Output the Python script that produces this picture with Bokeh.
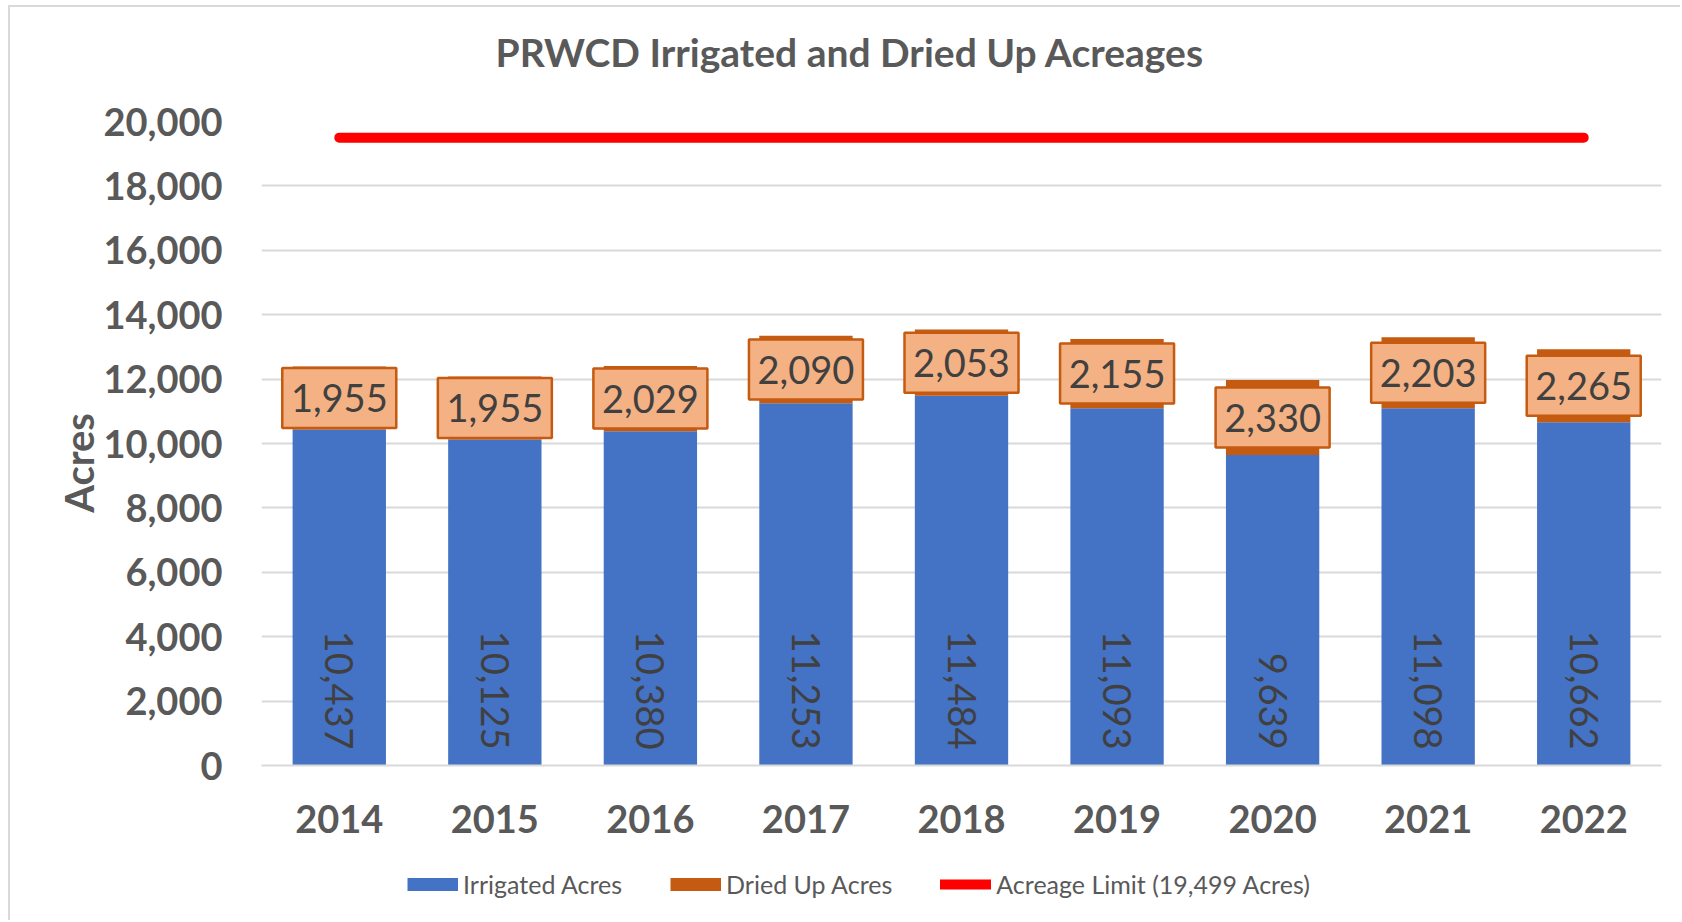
import math
from bokeh.plotting import figure
from bokeh.layouts import column
from bokeh.models import (ColumnDataSource, FixedTicker, NumeralTickFormatter, Legend,
                          LegendItem, Title, Range1d, FactorRange)
from bokeh.core.properties import value
from bokeh.embed import file_html
from bokeh.resources import INLINE

# ---- data ----
years = ["2014", "2015", "2016", "2017", "2018", "2019", "2020", "2021", "2022"]
irrigated = [10437, 10125, 10380, 11253, 11484, 11093, 9639, 11098, 10662]
dried_up = [1955, 1955, 2029, 2090, 2053, 2155, 2330, 2203, 2265]
acreage_limit = 19499
y_ticks = [0, 2000, 4000, 6000, 8000, 10000, 12000, 14000, 16000, 18000, 20000]
title_text = "PRWCD Irrigated and Dried Up Acreages"
legend_labels = ["Irrigated Acres", "Dried Up Acres", "Acreage Limit (19,499 Acres)"]

FONT = "Lato"
GRAY = "#595959"
LABEL_COLOR = "#404040"
BLUE = "#4472C4"
ORANGE = "#C55A11"
LIGHT_ORANGE = "#F4B183"
RED = "#FF0000"
BORDER = "#D9D9D9"

src = ColumnDataSource(dict(
    year=years,
    irr=irrigated,
    dried=dried_up,
    top=[i + d for i, d in zip(irrigated, dried_up)],
    mid=[i + d / 2 for i, d in zip(irrigated, dried_up)],
    zero=[0] * len(years),
    limit=[acreage_limit] * len(years),
    irr_txt=[f"{v:,}" for v in irrigated],
    dried_txt=[f"{v:,}" for v in dried_up],
))

W = 1680
p = figure(x_range=FactorRange(*years), y_range=Range1d(0, 20000),
           width=W, height=852, output_backend="svg", toolbar_location=None,
           min_border_left=261, min_border_right=19, min_border_top=121, min_border_bottom=87)
p.outline_line_color = None
p.background_fill_color = "white"
p.border_fill_color = None

p.vbar(x="year", bottom=0, top="irr", width=0.6, fill_color=BLUE, line_color=None, source=src)
p.vbar(x="year", bottom="irr", top="top", width=0.6, fill_color=ORANGE, line_color=None, source=src)
p.line(x="year", y="limit", line_width=10, line_color=RED, line_cap="round", source=src)

p.rect(x="year", y="mid", width=114, height=60, width_units="screen", height_units="screen",
       fill_color=LIGHT_ORANGE, line_color=ORANGE, line_width=2.5, source=src)
p.text(x="year", y="mid", text="dried_txt", text_align="center", text_baseline="middle",
       text_font=value(FONT), text_font_size="38px", text_color=LABEL_COLOR, source=src)
p.text(x="year", y="zero", text="irr_txt", angle=-math.pi / 2, text_align="right",
       text_baseline="middle", y_offset=-16,
       text_font=value(FONT), text_font_size="38px", text_color=LABEL_COLOR, source=src)

# axes / grid
p.xgrid.grid_line_color = None
p.ygrid.grid_line_color = "#D9D9D9"
p.ygrid.grid_line_width = 2
p.yaxis.ticker = FixedTicker(ticks=y_ticks)
p.yaxis.formatter = NumeralTickFormatter(format="0,0")
for ax in (p.xaxis[0], p.yaxis[0]):
    ax.major_tick_line_color = None
    ax.minor_tick_line_color = None
    ax.major_tick_out = 0
    ax.major_tick_in = 0
    ax.major_label_text_font = FONT
    ax.major_label_text_font_style = "bold"
    ax.major_label_text_font_size = "38px"
    ax.major_label_text_color = GRAY
p.yaxis.axis_line_color = None
p.xaxis.axis_line_color = "#D9D9D9"
p.xaxis.axis_line_width = 2
p.yaxis.major_label_standoff = 39
p.xaxis.major_label_standoff = 39
p.yaxis.axis_label = "Acres\u00a0\u00a0\u00a0\u00a0"
p.yaxis.axis_label_text_font = FONT
p.yaxis.axis_label_text_font_style = "bold"
p.yaxis.axis_label_text_font_size = "40px"
p.yaxis.axis_label_text_color = GRAY
p.yaxis.axis_label_standoff = -3

# title (spacer keeps it up near the top edge)
p.title.text = ""
spacer = Title(text=" ", text_font_size="10px", standoff=34)
p.add_layout(spacer, "above")
title = Title(text=title_text, align="left", offset=234, vertical_align="bottom", standoff=0,
              text_font=FONT, text_font_style="bold", text_font_size="39px", text_color=GRAY)
p.add_layout(title, "above")

# ---- legend strip underneath ----
LH = 68
pl = figure(width=W, height=LH, x_range=Range1d(0, W), y_range=Range1d(0, LH),
            output_backend="svg", toolbar_location=None,
            x_axis_location=None, y_axis_location=None,
            min_border=0, min_border_left=0, min_border_right=0, min_border_top=0, min_border_bottom=0)
pl.outline_line_color = None
pl.background_fill_color = None
pl.border_fill_color = None
pl.xgrid.grid_line_color = None
pl.ygrid.grid_line_color = None
pl.title.text = ""
nan = float("nan")
sw_irr = pl.line(x=[nan], y=[nan], line_width=13, line_color=BLUE, line_cap="butt")
sw_dry = pl.line(x=[nan], y=[nan], line_width=13, line_color=ORANGE, line_cap="butt")
sw_lim = pl.line(x=[nan], y=[nan], line_width=10, line_color=RED, line_cap="round")
legend = Legend(items=[LegendItem(label=legend_labels[0], renderers=[sw_irr]),
                       LegendItem(label=legend_labels[1], renderers=[sw_dry]),
                       LegendItem(label=legend_labels[2], renderers=[sw_lim])],
                location=(146, 21), orientation="horizontal", padding=0, margin=0,
                spacing=48, glyph_width=51, glyph_height=14, label_standoff=5,
                label_text_font=FONT, label_text_font_size="25px", label_text_color=GRAY,
                border_line_color=None, background_fill_alpha=0)
pl.add_layout(legend)

layout = column(p, pl, spacing=0, styles={
    "background-color": "white",
    "background-image": f"linear-gradient({BORDER}, {BORDER}), linear-gradient({BORDER}, {BORDER})",
    "background-size": "2px 100%, 100% 2px",
    "background-position": "8px 6px, 8px 5px",
    "background-repeat": "no-repeat",
})
open("out.html", "w").write(file_html(layout, INLINE))
